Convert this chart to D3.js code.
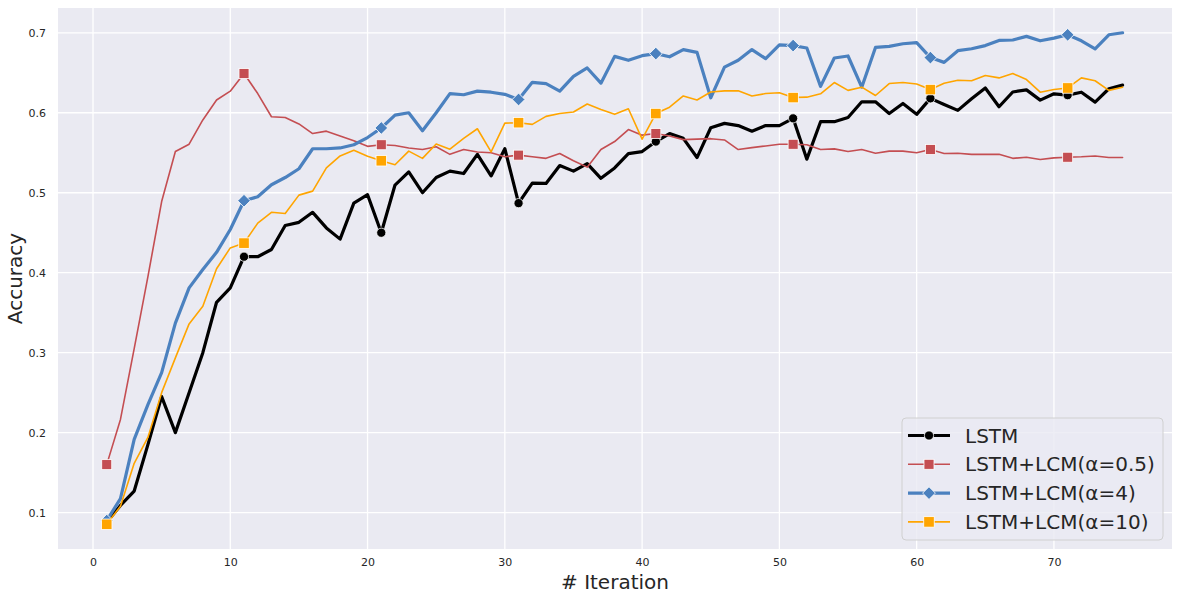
<!DOCTYPE html>
<html><head><meta charset="utf-8">
<script src="https://cdn.jsdelivr.net/npm/d3@7"></script>
<style>
body{margin:0;background:#fff;}
text{font-family:"DejaVu Sans",sans-serif;}
</style>
</head><body><svg id="chart" width="1180" height="600"></svg>
<script>
const iterations = [1,2,3,4,5,6,7,8,9,10,11,12,13,14,15,16,17,18,19,20,21,22,23,24,25,26,27,28,29,30,31,32,33,34,35,36,37,38,39,40,41,42,43,44,45,46,47,48,49,50,51,52,53,54,55,56,57,58,59,60,61,62,63,64,65,66,67,68,69,70,71,72,73,74,75];

const lstm = [0.088,0.109,0.127,0.185,0.245,0.200,0.250,0.300,0.363,0.381,
  0.420,0.420,0.429,0.459,0.463,0.4755,0.456,0.442,0.487,0.4975,
  0.450,0.5096,0.526,0.500,0.519,0.527,0.524,0.548,0.521,0.555,
  0.487,0.512,0.5116,0.534,0.527,0.5365,0.518,0.531,0.549,0.5515,
  0.564,0.574,0.568,0.544,0.5813,0.5867,0.584,0.577,0.584,0.584,
  0.593,0.542,0.5888,0.5888,0.594,0.6137,0.6137,0.599,0.6116,0.598,
  0.618,0.6104,0.603,0.6174,0.631,0.6075,0.626,0.6286,0.6158,0.6237,
  0.622,0.6257,0.6133,0.630,0.6345];

const lcm05 = [0.160,0.2165,0.305,0.395,0.489,0.5515,0.5607,0.591,0.616,0.627,
  0.649,0.624,0.595,0.594,0.586,0.574,0.577,0.571,0.565,0.558,
  0.560,0.559,0.556,0.554,0.5575,0.548,0.554,0.551,0.550,0.545,
  0.547,0.545,0.543,0.549,0.540,0.532,0.554,0.564,0.579,0.572,
  0.574,0.571,0.5664,0.567,0.5676,0.566,0.554,0.5564,0.5585,0.5606,
  0.5606,0.560,0.554,0.5548,0.5515,0.554,0.5494,0.552,0.552,0.550,
  0.554,0.549,0.5494,0.548,0.548,0.548,0.543,0.5444,0.5415,0.5436,
  0.5444,0.545,0.546,0.544,0.544];

const lcm4 = [0.090,0.1175,0.1916,0.235,0.275,0.337,0.381,0.404,0.4255,0.454,
  0.490,0.495,0.510,0.519,0.530,0.555,0.555,0.556,0.560,0.569,
  0.581,0.597,0.600,0.5775,0.600,0.624,0.6225,0.627,0.6257,0.623,
  0.6166,0.638,0.6365,0.627,0.6456,0.656,0.637,0.6705,0.6656,0.6714,
  0.674,0.670,0.679,0.6755,0.6187,0.657,0.6656,0.679,0.6676,0.685,
  0.684,0.681,0.633,0.6685,0.671,0.632,0.6817,0.683,0.6863,0.6876,
  0.669,0.663,0.6776,0.680,0.684,0.6905,0.691,0.6955,0.690,0.6934,
  0.6975,0.690,0.680,0.6975,0.700];

const lcm10 = [0.0854,0.108,0.1616,0.194,0.250,0.2935,0.336,0.358,0.405,0.431,
  0.437,0.462,0.4755,0.474,0.497,0.502,0.531,0.546,0.553,0.5455,
  0.540,0.535,0.552,0.543,0.561,0.5545,0.568,0.580,0.551,0.587,
  0.5876,0.5855,0.5955,0.599,0.601,0.611,0.604,0.598,0.605,0.567,
  0.599,0.607,0.621,0.616,0.626,0.6274,0.6274,0.621,0.624,0.625,
  0.619,0.6195,0.6237,0.6378,0.628,0.632,0.6216,0.6365,0.6378,0.636,
  0.629,0.637,0.6407,0.640,0.6465,0.6436,0.649,0.6415,0.6257,0.629,
  0.631,0.6436,0.640,0.628,0.632];

const seriesNames = ["LSTM","LSTM+LCM(α=0.5)","LSTM+LCM(α=4)","LSTM+LCM(α=10)"];
const xTicks = [0,10,20,30,40,50,60,70];
const yTicks = [0.1,0.2,0.3,0.4,0.5,0.6,0.7];

const styles = [
  {color:"#000000", width:3.2, marker:"circle", size:4.6},
  {color:"#c44e52", width:1.6, marker:"square", size:10},
  {color:"#4b81bf", width:3.2, marker:"diamond", size:9},
  {color:"#ffa500", width:1.6, marker:"square", size:10.5}
];
const allValues = [lstm, lcm05, lcm4, lcm10];

const svg = d3.select("#chart");
const L=58, R=1172, T=8, B=549;
const x = d3.scaleLinear().domain([-2.55, 78.6]).range([L, R]);
const y = d3.scaleLinear().domain([0.0545, 0.731]).range([B, T]);

svg.append("rect").attr("x",L).attr("y",T).attr("width",R-L).attr("height",B-T).attr("fill","#eaeaf2");

// grid
svg.append("g").selectAll("line").data(xTicks).join("line")
  .attr("x1",d=>x(d)).attr("x2",d=>x(d)).attr("y1",T).attr("y2",B)
  .attr("stroke","#fff").attr("stroke-width",1.3);
svg.append("g").selectAll("line").data(yTicks).join("line")
  .attr("y1",d=>y(d)).attr("y2",d=>y(d)).attr("x1",L).attr("x2",R)
  .attr("stroke","#fff").attr("stroke-width",1.3);

// axes
const xAxis = d3.axisBottom(x).tickValues(xTicks).tickSize(0).tickPadding(9).tickFormat(d3.format("d"));
const gx = svg.append("g").attr("transform",`translate(0,${B})`).call(xAxis);
gx.select(".domain").remove();
gx.selectAll("text").attr("font-size",11).attr("fill","#262626").attr("font-family","DejaVu Sans");
const yAxis = d3.axisLeft(y).tickValues(yTicks).tickSize(0).tickPadding(12).tickFormat(d3.format(".1f"));
const gy = svg.append("g").attr("transform",`translate(${L},0)`).call(yAxis);
gy.select(".domain").remove();
gy.selectAll("text").attr("font-size",11).attr("fill","#262626").attr("font-family","DejaVu Sans");

svg.append("text").attr("x",(L+R)/2).attr("y",589).attr("text-anchor","middle")
  .attr("font-size",20).attr("fill","#262626").text("# Iteration");
svg.append("text").attr("transform",`translate(22,${(T+B)/2}) rotate(-90)`).attr("text-anchor","middle")
  .attr("font-size",20).attr("fill","#262626").text("Accuracy");

function drawMarker(g, type, cx, cy, st){
  if(type==="circle"){
    g.append("circle").attr("cx",cx).attr("cy",cy).attr("r",st.size)
      .attr("fill",st.color).attr("stroke","#fff").attr("stroke-width",0.8);
  } else if(type==="square"){
    g.append("rect").attr("x",cx-st.size/2).attr("y",cy-st.size/2).attr("width",st.size).attr("height",st.size)
      .attr("fill",st.color).attr("stroke","#fff").attr("stroke-width",0.8);
  } else {
    g.append("rect").attr("x",-st.size/2).attr("y",-st.size/2).attr("width",st.size).attr("height",st.size)
      .attr("transform",`translate(${cx},${cy}) rotate(45)`)
      .attr("fill",st.color).attr("stroke","#fff").attr("stroke-width",0.8);
  }
}

const line = d3.line().x(d=>x(d[0])).y(d=>y(d[1]));
allValues.forEach((vals,k)=>{
  const st = styles[k];
  const pts = iterations.map((it,i)=>[it, vals[i]]);
  const g = svg.append("g");
  g.append("path").datum(pts).attr("d",line).attr("fill","none")
    .attr("stroke",st.color).attr("stroke-width",st.width).attr("stroke-linejoin","round").attr("stroke-linecap","round");
  pts.forEach((p,i)=>{ if(i%10===0) drawMarker(g, st.marker, x(p[0]), y(p[1]), st); });
});

// legend
const lg = svg.append("g");
lg.append("rect").attr("x",902).attr("y",418).attr("width",261).attr("height",122).attr("rx",4)
  .attr("fill","#eaeaf2").attr("fill-opacity",0.8).attr("stroke","#d0d0d0").attr("stroke-width",1);
seriesNames.forEach((name,k)=>{
  const st = styles[k];
  const cy = 435.5 + k*28.8;
  lg.append("line").attr("x1",908).attr("x2",950).attr("y1",cy).attr("y2",cy)
    .attr("stroke",st.color).attr("stroke-width",st.width);
  drawMarker(lg, st.marker, 929, cy, st);
  lg.append("text").attr("x",965).attr("y",cy+7).attr("font-size",20).attr("fill","#262626").text(name);
});
</script>
</body></html>
